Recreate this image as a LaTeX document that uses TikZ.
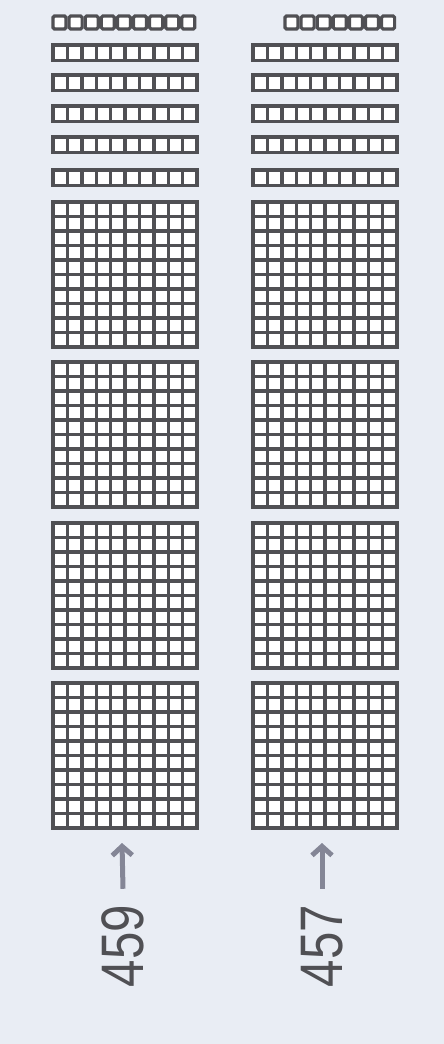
\documentclass[tikz,border=0pt]{standalone}
\usepackage{xcolor}
\usepackage{fontspec}
\setmainfont{Liberation Sans}
\newfontfamily\numfont[FakeStretch=0.82]{Liberation Sans}
\usetikzlibrary{arrows.meta}

\definecolor{paper}{RGB}{233,237,244}
\definecolor{ink}{RGB}{80,80,84}
\definecolor{pencil}{RGB}{132,134,150}

\tikzset{
  block/.style={draw=ink, line width=3.2pt, fill=white},
  gridline/.style={draw=ink, line width=3.4pt},
  unitbox/.style={draw=ink, line width=3.2pt, fill=white, rounded corners=1.5pt},
  numtext/.style={text=ink, font=\numfont\fontsize{60}{60}\selectfont, rotate=90, inner sep=0pt},
  pointer/.style={draw=pencil, line width=5pt, -{Straight Barb[length=9pt,width=20pt]}}
}

\begin{document}
\begin{tikzpicture}[x=1pt, y=-1pt]

  % Paper
  \fill[paper] (0,0) rectangle (444,1044);

  % Hundreds (four squares per column)
  \foreach \col in {53,253}
    \foreach \top in {202,362,523,683} {
      \draw[block] (\col,\top) rectangle ++(144,145);
      \foreach \k in {1,...,9} {
        \draw[gridline] ({\col+14.4*\k},\top) -- ++(0,145);
        \draw[gridline] (\col,{\top+14.5*\k}) -- ++(144,0);
      }
    }

  % Tens (five rods per column)
  \foreach \col in {53,253}
    \foreach \top in {45,75,106,137,170} {
      \draw[block] (\col,\top) rectangle ++(144,15.5);
      \foreach \k in {1,...,9}
        \draw[gridline] ({\col+14.4*\k},\top) -- ++(0,15.5);
    }

  % Ones
  \foreach \k in {0,...,8}
    \draw[unitbox] ({53+16.1*\k},16) rectangle ++(13,13);
  \foreach \k in {0,...,6}
    \draw[unitbox] ({285+16.1*\k},16) rectangle ++(13,13);

  % Numbers and arrows
  \node[numtext] (n459) at (123,946) {459};
  \node[numtext] (n457) at (322,946) {457};
  \coordinate (t459) at (122,843);
  \coordinate (t457) at (322,843);
  \draw[pointer] ([yshift=16pt]n459.east) -- (t459);
  \draw[pointer] ([yshift=16pt]n457.east) -- (t457);

\end{tikzpicture}
\end{document}
